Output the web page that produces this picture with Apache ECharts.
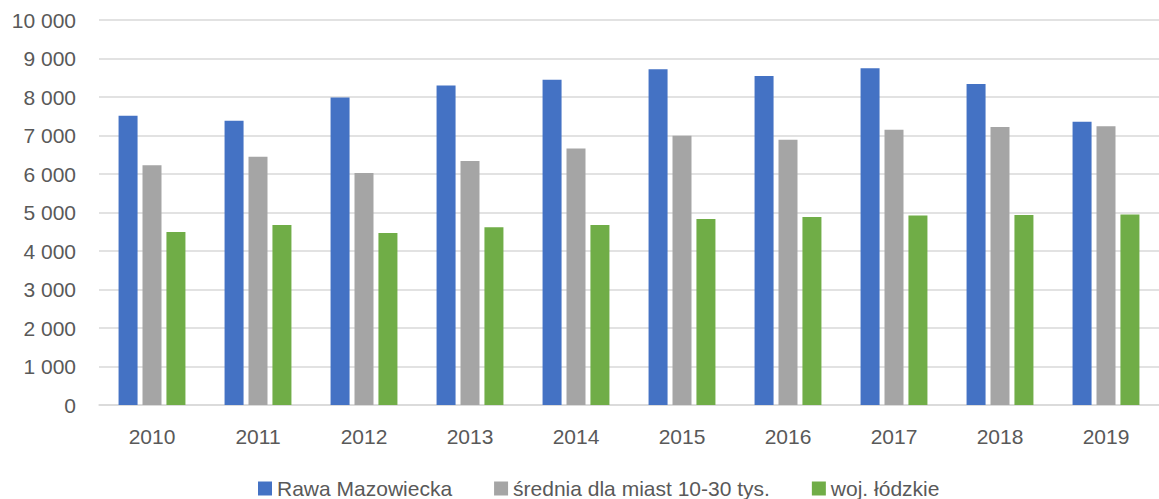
<!DOCTYPE html>
<html>
<head>
<meta charset="utf-8">
<script src="https://cdn.jsdelivr.net/npm/echarts@6/dist/echarts.min.js"></script>
<style>
    html, body { margin: 0; padding: 0; background: #ffffff; }
    #chart { width: 1159px; height: 499px; }
</style>
</head>
<body>
<div id="chart"></div>
<script>
var years = ['2010', '2011', '2012', '2013', '2014', '2015', '2016', '2017', '2018', '2019'];
var rawa = [7510, 7380, 7985, 8300, 8445, 8720, 8545, 8745, 8340, 7360];
var srednia = [6225, 6450, 6025, 6340, 6660, 6995, 6890, 7150, 7220, 7240];
var lodzkie = [4495, 4675, 4470, 4615, 4675, 4830, 4885, 4925, 4935, 4945];
var seriesNames = ['Rawa Mazowiecka', 'średnia dla miast 10-30 tys.', 'woj. łódzkie'];

(function() {
    var ink = '#595959';
    var rule = '#d9d9d9';
    var font = '"Liberation Sans", Arial, sans-serif';

    var chart = echarts.init(document.getElementById('chart'), null, { renderer: 'svg' });

    function bar(name, data, color) {
        return {
            name: name,
            type: 'bar',
            data: data,
            barWidth: 19,
            barGap: '26%',
            itemStyle: { color: color },
            emphasis: { disabled: true }
        };
    }

    var option = {
        animation: false,
        textStyle: { fontFamily: font },
        legend: {
            data: seriesNames,
            left: 253,
            top: 473,
            itemWidth: 14,
            itemHeight: 14,
            itemGap: 42,
            icon: 'rect',
            textStyle: { color: ink, fontSize: 21, fontFamily: font }
        },
        grid: {
            left: 99,
            top: 20,
            width: 1074,
            bottom: 94,
            containLabel: false
        },
        xAxis: {
            type: 'category',
            data: years,
            axisLine: { lineStyle: { color: rule, width: 1.5 } },
            axisTick: { show: false },
            axisLabel: { color: ink, fontSize: 21, fontFamily: font, margin: 21 }
        },
        yAxis: {
            type: 'value',
            min: 0,
            max: 10000,
            interval: 1000,
            axisLine: { show: false },
            axisTick: { show: false },
            splitLine: { lineStyle: { color: rule, width: 1.5 } },
            axisLabel: {
                color: ink,
                fontSize: 21,
                fontFamily: font,
                margin: 23,
                formatter: function(v) {
                    return String(v).replace(/\B(?=(\d{3})+(?!\d))/g, ' ');
                }
            }
        },
        series: [
            bar(seriesNames[0], rawa, '#4472c4'),
            bar(seriesNames[1], srednia, '#a5a5a5'),
            bar(seriesNames[2], lodzkie, '#70ad47')
        ]
    };

    chart.setOption(option);
    window.addEventListener('resize', function() { chart.resize(); });
})();
</script>
</body>
</html>
